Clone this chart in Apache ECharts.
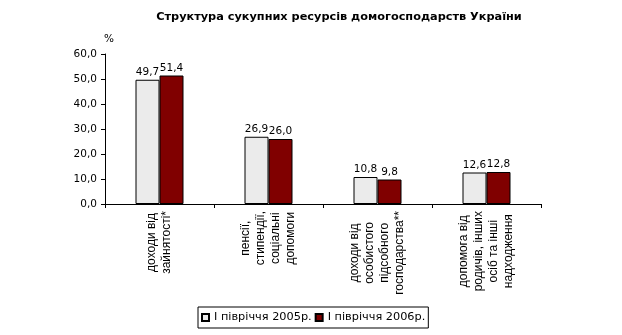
<!DOCTYPE html>
<html>
<head>
<meta charset="utf-8">
<script src="https://cdn.jsdelivr.net/npm/echarts@6/dist/echarts.min.js"></script>
<style>html,body{margin:0;padding:0;background:#fff}#c{width:622px;height:335px}</style>
</head>
<body>
<div id="c"></div>
<script>
var categories = [
  "доходи від\nзайнятості*",
  "пенсії,\nстипендії,\nсоціальні\nдопомоги",
  "доходи від\nособистого\nпідсобного\nгосподарства**",
  "допомога від\nродичів, інших\nосіб та інші\nнадходження"
];
var seriesNames = ["I півріччя 2005р.", "I півріччя 2006р."];
var values2005 = [49.7, 26.9, 10.8, 12.6];
var values2006 = [51.4, 26.0, 9.8, 12.8];
var yTicks = [0, 10, 20, 30, 40, 50, 60];

function fmt(v) { return Number(v).toFixed(1).replace('.', ','); }
var chart = echarts.init(document.getElementById('c'), null, {renderer: 'canvas'});
var font = 'DejaVu Sans';
chart.setOption({
  animation: false,
  backgroundColor: '#fff',
  title: {
    text: 'Структура сукупних ресурсів домогосподарств України',
    left: 334, top: 7, textAlign: 'center',
    textStyle: {fontFamily: font, fontSize: 11.3, fontWeight: 'bold', color: '#000'}
  },
  legend: {
    data: seriesNames,
    left: 198, top: 307,
    orient: 'horizontal',
    itemWidth: 7, itemHeight: 7, itemGap: 3,
    padding: [5, 3, 5, 3],
    borderColor: '#000', borderWidth: 1,
    icon: 'rect',
    textStyle: {fontFamily: font, fontSize: 11.3, color: '#000'}
  },
  grid: {left: 105, right: 81, top: 54, bottom: 131, containLabel: false},
  xAxis: {
    type: 'category',
    data: categories,
    axisLine: {lineStyle: {color: '#000', width: 1}},
    axisTick: {show: true, length: 4, lineStyle: {color: '#000'}},
    axisLabel: {
      interval: 0,
      rotate: 90,
      margin: 7,
      fontFamily: 'Liberation Sans', fontSize: 12, color: '#000',
      lineHeight: 15,
      formatter: function (v) {
        return v.split('\n').map(function (l) { return '{c|' + l + '}'; }).join('\n');
      },
      rich: {c: {align: 'center', fontFamily: 'Liberation Sans', fontSize: 12, color: '#000', lineHeight: 15}}
    }
  },
  yAxis: {
    type: 'value',
    min: yTicks[0], max: yTicks[yTicks.length - 1], interval: 10,
    name: '%',
    nameLocation: 'end',
    nameGap: 9,
    nameTextStyle: {fontFamily: font, fontSize: 10.5, color: '#000', align: 'left', padding: [0, 0, 0, -1]},
    axisLine: {show: true, lineStyle: {color: '#000', width: 1}},
    axisTick: {show: true, length: 4, lineStyle: {color: '#000'}},
    splitLine: {show: false},
    axisLabel: {
      margin: 8,
      fontFamily: font, fontSize: 10.5, color: '#000',
      formatter: function (v) { return fmt(v); }
    }
  },
  series: [
    {
      name: seriesNames[0], type: 'bar', data: values2005,
      barWidth: 24, barGap: '0%',
      itemStyle: {color: '#ebebeb', borderColor: '#000', borderWidth: 1},
      label: {show: true, position: 'top', distance: 2, fontFamily: font, fontSize: 10.5, color: '#000',
        formatter: function (p) { return fmt(p.value); }}
    },
    {
      name: seriesNames[1], type: 'bar', data: values2006,
      barWidth: 24, barGap: '0%',
      itemStyle: {color: '#800000', borderColor: '#000', borderWidth: 1},
      label: {show: true, position: 'top', distance: 2, fontFamily: font, fontSize: 10.5, color: '#000',
        formatter: function (p) { return fmt(p.value); }}
    }
  ]
});
</script>
</body>
</html>
